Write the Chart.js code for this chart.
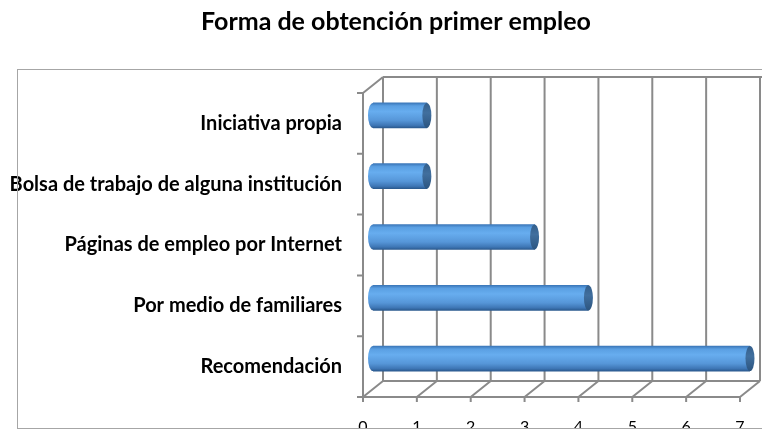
<!DOCTYPE html>
<html>
<head>
<meta charset="utf-8">
<script src="https://cdn.jsdelivr.net/npm/chart.js@4.4.0/dist/chart.umd.min.js"></script>
<style>
html, body { margin: 0; padding: 0; background: #fff; }
#wrap { width: 762px; height: 432px; position: relative; }
</style>
</head>
<body>
<div id="wrap"><canvas id="chart"></canvas></div>
<script>
const titleText = 'Forma de obtención primer empleo';
const categories = [
    'Iniciativa propia',
    'Bolsa de trabajo de alguna institución',
    'Páginas de empleo por Internet',
    'Por medio de familiares',
    'Recomendación'
];
const values = [1, 1, 3, 4, 7];
const xTicks = [0, 1, 2, 3, 4, 5, 6, 7];

// depth of the fake 3d box (mid plane -> back plane)
const DX = 10;
const DY = 8;
const BAR_H = 25;
const LINE = '#8a8a8a';

function barGradient(ctx, yc, h) {
    const g = ctx.createLinearGradient(0, yc - h / 2, 0, yc + h / 2);
    g.addColorStop(0, '#3b77b9');
    g.addColorStop(0.12, '#5a9fe2');
    g.addColorStop(0.35, '#67adef');
    g.addColorStop(0.7, '#5696d8');
    g.addColorStop(0.9, '#3e76b5');
    g.addColorStop(1, '#2b5a8f');
    return g;
}

function capGradient(ctx, yc, h) {
    const g = ctx.createLinearGradient(0, yc - h / 2, 0, yc + h / 2);
    g.addColorStop(0, '#335f8c');
    g.addColorStop(0.4, '#416f9e');
    g.addColorStop(1, '#2c5580');
    return g;
}

const box3d = {
    id: 'box3d',
    afterLayout(chart) {
        // title is centred a bit right of the canvas middle in the original
        if (chart.titleBlock) chart.titleBlock.left += 42;
    },
    beforeDatasetsDraw(chart) {
        const ctx = chart.ctx;
        const x = chart.scales.x;
        const y = chart.scales.y;
        const x0 = x.getPixelForValue(xTicks[0]);
        const x1 = x.getPixelForValue(xTicks[xTicks.length - 1]);
        const top = y.top, bottom = y.bottom;

        ctx.save();
        ctx.strokeStyle = LINE;
        ctx.lineWidth = 2;
        ctx.beginPath();
        // back wall grid lines
        xTicks.forEach(v => {
            const px = x.getPixelForValue(v) + DX;
            ctx.moveTo(px, top - DY);
            ctx.lineTo(px, bottom - DY);
        });
        // back wall top and bottom
        ctx.moveTo(x0 + DX, top - DY);
        ctx.lineTo(chart.width + 5, top - DY);
        ctx.moveTo(x0 + DX, bottom - DY);
        ctx.lineTo(x1 + DX, bottom - DY);
        // front left wall edge
        ctx.moveTo(x0 - DX, top + DY);
        ctx.lineTo(x0 - DX, bottom + DY);
        ctx.moveTo(x0 - DX, top + DY);
        ctx.lineTo(x0 + DX, top - DY);
        // floor front edge
        ctx.moveTo(x0 - DX, bottom + DY);
        ctx.lineTo(x1 - DX, bottom + DY);
        // floor diagonals + bottom ticks
        xTicks.forEach(v => {
            const px = x.getPixelForValue(v);
            ctx.moveTo(px - DX, bottom + DY);
            ctx.lineTo(px + DX, bottom - DY);
            ctx.moveTo(px - DX, bottom + DY);
            ctx.lineTo(px - DX, bottom + DY + 5);
        });
        // category ticks on the front left axis
        for (let i = 0; i <= categories.length; i++) {
            const py = y.getPixelForValue(i - 0.5) + DY;
            ctx.moveTo(x0 - DX - 6, py);
            ctx.lineTo(x0 - DX, py);
        }
        ctx.stroke();
        ctx.restore();
    },
    afterDatasetsDraw(chart) {
        const ctx = chart.ctx;
        const meta = chart.getDatasetMeta(0);
        ctx.save();
        meta.data.forEach(bar => {
            const p = bar.getProps(['x', 'y', 'base', 'height'], true);
            const h = p.height;
            // rounded left end of the cylinder
            ctx.beginPath();
            ctx.ellipse(p.base, p.y, 5, h / 2, 0, Math.PI / 2, Math.PI * 1.5);
            ctx.closePath();
            ctx.fillStyle = barGradient(ctx, p.y, h);
            ctx.fill();
            // visible end cap
            ctx.beginPath();
            ctx.ellipse(p.x, p.y, 4.5, h / 2, 0, 0, Math.PI * 2);
            ctx.fillStyle = capGradient(ctx, p.y, h);
            ctx.fill();
        });
        ctx.restore();
    },
    afterDraw(chart) {
        const ctx = chart.ctx;
        ctx.save();
        ctx.fillStyle = '#fff';
        ctx.fillRect(0, 429, chart.width, 10);
        ctx.strokeStyle = '#a6a6a6';
        ctx.lineWidth = 1;
        ctx.strokeRect(17.5, 69.5, chart.width + 20, 359);
        ctx.restore();
    }
};

new Chart(document.getElementById('chart'), {
    type: 'bar',
    data: {
        labels: categories,
        datasets: [{
            data: values,
            backgroundColor: function(c) {
                const chart = c.chart;
                if (!chart.chartArea || c.dataIndex === undefined) return '#5a9fe0';
                const yc = chart.scales.y.getPixelForValue(c.dataIndex);
                return barGradient(chart.ctx, yc, BAR_H);
            },
            borderWidth: 0,
            barThickness: BAR_H
        }]
    },
    plugins: [box3d],
    options: {
        indexAxis: 'y',
        responsive: true,
        maintainAspectRatio: false,
        animation: false,
        layout: {
            padding: { left: 0, right: 12, top: 0, bottom: 0 }
        },
        scales: {
            x: {
                type: 'linear',
                min: 0,
                max: 7,
                grid: { display: false, drawTicks: false },
                border: { display: false },
                ticks: {
                    stepSize: 1,
                    autoSkip: false,
                    maxRotation: 0,
                    labelOffset: -DX,
                    padding: 28,
                    color: '#000',
                    font: { family: 'Lato', size: 16 }
                },
                afterFit(scale) {
                    scale.height = 40;
                    scale.paddingLeft = 0;
                    scale.paddingRight = 0;
                }
            },
            y: {
                grid: { display: false, drawTicks: false },
                border: { display: false },
                ticks: {
                    labelOffset: DY,
                    padding: 31,
                    color: '#000',
                    font: { family: 'Lato', size: 20, weight: 'bold' }
                },
                afterFit(scale) { scale.width = 373; }
            }
        },
        plugins: {
            legend: { display: false },
            tooltip: { enabled: false },
            title: {
                display: true,
                text: titleText,
                color: '#000',
                font: { family: 'Lato', size: 25, weight: 'bold' },
                padding: { top: 7, bottom: 48 }
            }
        }
    }
});
</script>
</body>
</html>
